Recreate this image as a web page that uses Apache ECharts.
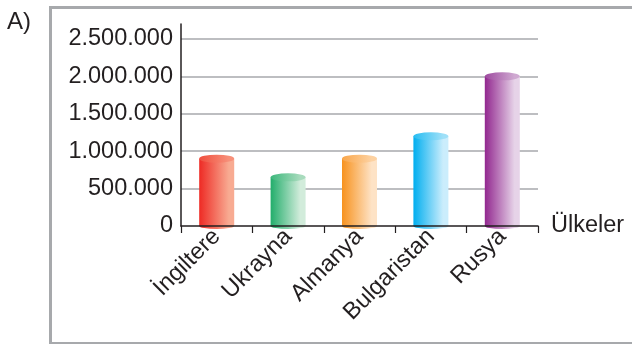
<!DOCTYPE html>
<html>
<head>
<meta charset="utf-8">
<script src="https://cdn.jsdelivr.net/npm/echarts@6/dist/echarts.min.js"></script>
<style>html,body{margin:0;padding:0;background:#fff;}#c{width:632px;height:344px;}</style>
</head>
<body>
<div id="c"></div>
<script>
var categories = ['İngiltere', 'Ukrayna', 'Almanya', 'Bulgaristan', 'Rusya'];
var values = [900000, 650000, 900000, 1200000, 2000000];
var darkColors = ['#ee2a24', '#22ad6b', '#f7921e', '#00aeef', '#92278f'];
var lightColors = ['#f8ab92', '#d2ecdb', '#fee3c6', '#cbedfc', '#e6d3e8'];
var topColors = [['#f04e3e', '#f7907a'], ['#3db87c', '#a8dbbd'], ['#f9a64a', '#fdd2a2'], ['#27bdf2', '#9fe0f8'], ['#9e4a9f', '#cfa9d1']];
var yTicks = [0, 500000, 1000000, 1500000, 2000000, 2500000];
var axisName = 'Ülkeler';
var panelLabel = 'A)';

function grad(c0, c1) {
  return new echarts.graphic.LinearGradient(0, 0, 1, 0, [
    {offset: 0, color: c0},
    {offset: 0.85, color: c1},
    {offset: 1, color: c1}
  ]);
}
function fmt(v) {
  return String(v).replace(/\B(?=(\d{3})+(?!\d))/g, '.');
}

var barData = values.map(function (v, i) {
  return {value: v, itemStyle: {color: grad(darkColors[i], lightColors[i])}};
});
var topData = values.map(function (v, i) {
  return {value: v, itemStyle: {color: grad(topColors[i][0], topColors[i][1])}};
});

var chart = echarts.init(document.getElementById('c'), null, {renderer: 'canvas'});
var font = 'Liberation Sans, Arial, sans-serif';
chart.setOption({
  animation: false,
  textStyle: {fontFamily: font},
  grid: {left: 181, right: 94, top: 24, bottom: 118, containLabel: false},
  xAxis: {
    type: 'category',
    data: categories,
    z: 5,
    boundaryGap: true,
    axisLine: {lineStyle: {color: '#231f20', width: 1.5}},
    axisTick: {show: true, length: 7, lineStyle: {color: '#231f20', width: 1.2}},
    axisLabel: {rotate: 45, margin: 7, fontSize: 23.5, color: '#231f20', fontFamily: font},
    name: axisName,
    nameLocation: 'end',
    nameGap: 13,
    nameTextStyle: {fontSize: 23.5, color: '#231f20', fontFamily: font, verticalAlign: 'middle'}
  },
  yAxis: {
    type: 'value',
    min: 0,
    max: 2700000,
    interval: 500000,
    axisLine: {show: true, lineStyle: {color: '#231f20', width: 1.5}},
    axisTick: {show: false},
    axisLabel: {
      showMaxLabel: false,
      margin: 8, fontSize: 23.5, color: '#231f20', fontFamily: font,
      formatter: function (v) { return yTicks.indexOf(v) >= 0 ? fmt(v) : ''; }
    },
    splitLine: {show: true, showMaxLine: false, showMinLine: false, lineStyle: {color: '#a7a9ac', width: 1.5}}
  },
  series: [
    {
      type: 'pictorialBar',
      symbol: 'circle',
      symbolSize: [35, 6],
      symbolPosition: 'start',
      symbolOffset: [0, '50%'],
      z: 1,
      data: barData,
      silent: true
    },
    {
      type: 'bar',
      barWidth: 35,
      z: 2,
      data: barData
    },
    {
      type: 'pictorialBar',
      symbol: 'circle',
      symbolSize: [35, 8],
      symbolPosition: 'end',
      symbolOffset: [0, '-50%'],
      z: 3,
      data: topData,
      silent: true
    }
  ],
  graphic: [
    {type: 'rect', left: 48, top: 5, z: 100, shape: {x: 0, y: 0, width: 620, height: 336},
      style: {fill: 'none', stroke: '#a7a9ac', lineWidth: 3}},
    {type: 'text', left: 7, top: 10, z: 100, style: {text: panelLabel, fill: '#231f20', font: '24px ' + font}}
  ]
});
</script>
</body>
</html>
